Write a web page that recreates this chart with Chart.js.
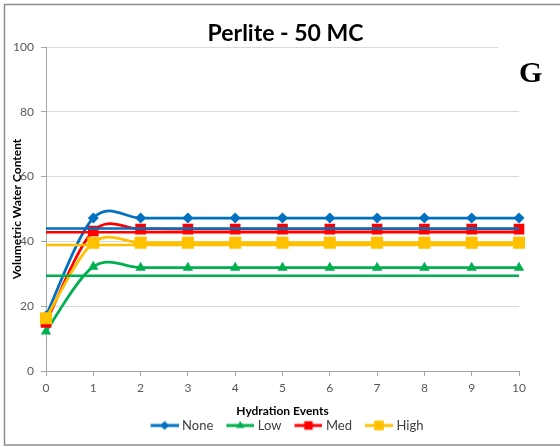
<!DOCTYPE html>
<html>
<head>
<meta charset="utf-8">
<title>Perlite - 50 MC</title>
<script src="https://cdn.jsdelivr.net/npm/chart.js@4.4.1/dist/chart.umd.min.js"></script>
<style>
  html, body { margin: 0; padding: 0; background: #fff; }
</style>
</head>
<body>
<canvas id="chart" width="560" height="447"></canvas>
<script>
// Chart data
const hydrationEvents = ['0', '1', '2', '3', '4', '5', '6', '7', '8', '9', '10']
const noneVWC = [17.0, 47.2, 47.2, 47.2, 47.2, 47.2, 47.2, 47.2, 47.2, 47.2, 47.2]
const lowVWC = [12.2, 32.2, 31.9, 31.9, 31.9, 31.9, 31.9, 31.9, 31.9, 31.9, 31.9]
const medVWC = [15.0, 43.2, 43.8, 43.8, 43.8, 43.8, 43.8, 43.8, 43.8, 43.8, 43.8]
const highVWC = [16.3, 39.6, 39.6, 39.6, 39.6, 39.6, 39.6, 39.6, 39.6, 39.6, 39.6]
// flat reference lines across the plot
const meanVWC = [44.0, 29.4, 42.8, 38.9]
const seriesNames = ['None', 'Low', 'Med', 'High']
const yMin = 0
const yMax = 100
const yStep = 20

const seriesValues = [noneVWC, lowVWC, medVWC, highVWC]
const seriesColors = ['#0070C0', '#00B050', '#FF0000', '#FFC000']
const seriesMarkers = ['rectRot', 'triangle', 'rect', 'rect']
const markerRadius = [5.5, 6, 7.5, 8.5]

const axisGray = '#A6A6A6'
const tickFont = { family: 'Lato', size: 12 }

// line + marker picture for the legend
function legendIcon (color, marker, radius) {
  const c = document.createElement('canvas')
  c.width = 40
  c.height = 14
  const ctx = c.getContext('2d')
  ctx.strokeStyle = color
  ctx.lineWidth = 3
  ctx.beginPath()
  ctx.moveTo(12, 7)
  ctx.lineTo(40, 7)
  ctx.stroke()
  ctx.fillStyle = color
  Chart.helpers.drawPoint(ctx, { pointStyle: marker, radius, borderWidth: 0, rotation: 0 }, 26, 7)
  return c
}

// Excel style smoothing (catmull-rom control points)
const excelSmooth = {
  id: 'excelSmooth',
  beforeDatasetDraw (chart, args) {
    const line = args.meta.dataset
    if (!line || !line.options.tension) return
    line.updateControlPoints(chart.chartArea)
    const pts = args.meta.data
    pts.forEach((p, i) => {
      const prev = pts[i - 1] || p
      const next = pts[i + 1] || p
      const dx = (next.x - prev.x) / 6
      const dy = (next.y - prev.y) / 6
      p.cp1x = p.x - dx
      p.cp1y = p.y - dy
      p.cp2x = p.x + dx
      p.cp2y = p.y + dy
    })
  }
}

const decorations = {
  id: 'decorations',
  beforeDraw (chart) {
    const ctx = chart.ctx
    ctx.save()
    ctx.strokeStyle = '#8C8C8C'
    ctx.lineWidth = 1.5
    ctx.strokeRect(4.5, 4.5, 620, 440.5)
    ctx.restore()
  },
  afterDraw (chart) {
    const ctx = chart.ctx
    const area = chart.chartArea
    ctx.save()
    ctx.fillStyle = '#000'
    ctx.font = 'bold 23px Lato'
    ctx.textAlign = 'center'
    ctx.textBaseline = 'alphabetic'
    ctx.fillText('Perlite - 50 MC', (area.left + area.right) / 2 + 3, 41)
    // text box with the panel letter
    ctx.fillStyle = '#fff'
    ctx.fillRect(498, 38, 62, 60)
    ctx.fillStyle = '#000'
    ctx.font = 'bold 30px "Liberation Serif"'
    ctx.textAlign = 'left'
    ctx.fillText('G', 519, 82)
    ctx.restore()
  }
}

const datasets = seriesNames.map((name, i) => ({
  label: name,
  data: seriesValues[i],
  borderColor: seriesColors[i],
  backgroundColor: seriesColors[i],
  borderWidth: 2.75,
  pointStyle: seriesMarkers[i],
  pointRadius: markerRadius[i],
  pointBorderWidth: 0,
  tension: 0.5,
  order: 4 - i
}))

seriesNames.forEach((name, i) => {
  datasets.push({
    label: name + ' mean',
    data: [{ x: hydrationEvents[0], y: meanVWC[i] }, { x: hydrationEvents[hydrationEvents.length - 1], y: meanVWC[i] }],
    borderColor: seriesColors[i],
    borderWidth: 2.5,
    pointRadius: 0,
    tension: 0,
    order: 0
  })
})

new Chart(document.getElementById('chart'), {
  type: 'line',
  data: { labels: hydrationEvents, datasets },
  plugins: [excelSmooth, decorations],
  options: {
    responsive: false,
    animation: false,
    devicePixelRatio: 1,
    layout: { padding: { top: 47, right: 41, bottom: 5, left: 0 } },
    plugins: {
      title: { display: false },
      tooltip: { enabled: false },
      legend: {
        position: 'bottom',
        fullSize: false,
        labels: {
          usePointStyle: true,
          pointStyleWidth: 34,
          boxHeight: 12,
          padding: 4,
          color: '#404040',
          font: { family: 'Lato', size: 13 },
          generateLabels: () => seriesNames.map((name, i) => ({
            text: name,
            pointStyle: legendIcon(seriesColors[i], seriesMarkers[i], markerRadius[i] * 0.8),
            fillStyle: seriesColors[i],
            strokeStyle: seriesColors[i],
            lineWidth: 0,
            hidden: false,
            fontColor: '#404040',
            datasetIndex: i
          }))
        }
      }
    },
    scales: {
      x: {
        grid: { drawOnChartArea: false, drawTicks: true, tickLength: 5, color: axisGray },
        border: { color: axisGray, width: 1 },
        ticks: { color: '#595959', font: tickFont, padding: 5, maxRotation: 0, autoSkip: false },
        title: {
          display: true,
          text: 'Hydration Events',
          color: '#000',
          font: { family: 'Lato', size: 12, weight: 'bold' },
          padding: { top: 0, bottom: -3.5 }
        },
        afterFit: s => { s.height = 44 }
      },
      y: {
        min: yMin,
        max: yMax,
        ticks: { stepSize: yStep, color: '#595959', font: tickFont, padding: 7 },
        grid: { color: '#D9D9D9', tickColor: axisGray, tickLength: 5 },
        border: { color: axisGray, width: 1 },
        title: {
          display: true,
          text: 'Volumetric Water Content',
          color: '#000',
          font: { family: 'Lato', size: 12, weight: 'bold' },
          padding: { top: 10, bottom: 0 }
        },
        afterFit: s => { s.width = 46 }
      }
    }
  }
})
</script>
</body>
</html>
